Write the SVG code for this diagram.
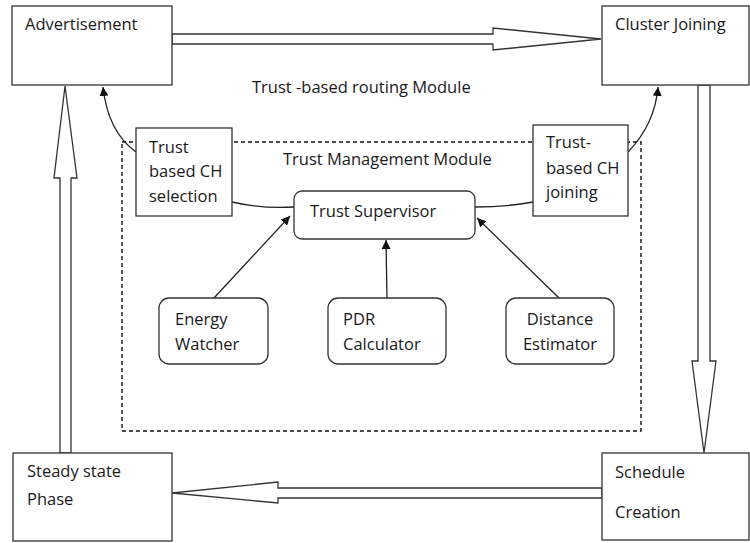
<svg xmlns="http://www.w3.org/2000/svg" width="750" height="543" viewBox="0 0 750 543">
  <style>
    .box { fill: #fff; stroke: #333; stroke-width: 1.3; }
    .blk { fill: #fff; stroke: #333; stroke-width: 1.3; stroke-linejoin: miter; }
    .ln { fill: none; stroke: #222; stroke-width: 1.3; }
    .dash { fill: none; stroke: #111; stroke-width: 1.4; stroke-dasharray: 4 3; }
    text { font-family: "Open Sans", "Liberation Sans", sans-serif; font-size: 16.5px; fill: #1a1a1a; }
  </style>
  <defs>
    <marker id="ah" viewBox="0 0 10 10" refX="10" refY="5" markerWidth="9" markerHeight="9" markerUnits="userSpaceOnUse" orient="auto">
      <path d="M0,0 L10,5 L0,10 z" fill="#111"/>
    </marker>
  </defs>
  <rect width="750" height="543" fill="#fff"/>

  <rect id="trust-management-area" class="dash" x="122" y="142" width="519" height="289"/>
  <text x="252" y="93">Trust -based routing Module</text>
  <text x="283" y="165">Trust Management Module</text>

  <g id="connectors">
    <polygon class="blk" points="172,34 493,34 493,28 601,39 493,50 493,44 172,44"/>
    <polygon class="blk" points="698,85 710,85 710,361 716,361 704,453 692,361 698,361"/>
    <polygon class="blk" points="602,488 278,488 278,482 172,493 278,503 278,498 602,498"/>
    <polygon class="blk" points="60,453 60,178 54,178 65,86 77,178 71,178 71,453"/>
    <path class="ln" d="M136,152 Q108,132 103,87" marker-end="url(#ah)"/>
    <path class="ln" d="M628,152 Q655,124 658,87" marker-end="url(#ah)"/>
    <path class="ln" d="M232,202 Q262,209 294,207"/>
    <path class="ln" d="M475,207 Q506,207 533,202"/>
    <line class="ln" x1="214" y1="298" x2="290" y2="216" marker-end="url(#ah)"/>
    <line class="ln" x1="387" y1="298" x2="386" y2="240" marker-end="url(#ah)"/>
    <line class="ln" x1="559" y1="298" x2="477" y2="218" marker-end="url(#ah)"/>
  </g>

  <g id="advertisement">
    <rect class="box" x="12" y="6" width="160" height="79"/>
    <text x="25" y="30">Advertisement</text>
  </g>
  <g id="cluster-joining">
    <rect class="box" x="602" y="6" width="147" height="79"/>
    <text x="615" y="30">Cluster Joining</text>
  </g>
  <g id="steady-state">
    <rect class="box" x="13" y="453" width="159" height="88"/>
    <text x="27" y="477">Steady state</text>
    <text x="27" y="505">Phase</text>
  </g>
  <g id="schedule-creation">
    <rect class="box" x="602" y="453" width="147" height="87"/>
    <text x="615" y="478">Schedule</text>
    <text x="615" y="518">Creation</text>
  </g>
  <g id="ch-selection">
    <rect class="box" x="136" y="128" width="96" height="88"/>
    <text x="149" y="153">Trust</text>
    <text x="149" y="177">based CH</text>
    <text x="149" y="202">selection</text>
  </g>
  <g id="ch-joining">
    <rect class="box" x="533" y="125" width="95" height="91"/>
    <text x="546" y="148">Trust-</text>
    <text x="546" y="174">based CH</text>
    <text x="546" y="198">joining</text>
  </g>
  <g id="trust-supervisor">
    <rect class="box" x="294" y="191" width="181" height="48" rx="8"/>
    <text x="310" y="217">Trust Supervisor</text>
  </g>
  <g id="energy-watcher">
    <rect class="box" x="159" y="298" width="109" height="66" rx="10"/>
    <text x="175" y="325">Energy</text>
    <text x="175" y="350">Watcher</text>
  </g>
  <g id="pdr-calculator">
    <rect class="box" x="328" y="298" width="118" height="66" rx="10"/>
    <text x="343" y="325">PDR</text>
    <text x="343" y="350">Calculator</text>
  </g>
  <g id="distance-estimator">
    <rect class="box" x="506" y="298" width="108" height="66" rx="10"/>
    <text x="560" y="325" text-anchor="middle">Distance</text>
    <text x="560" y="350" text-anchor="middle">Estimator</text>
  </g>
</svg>
